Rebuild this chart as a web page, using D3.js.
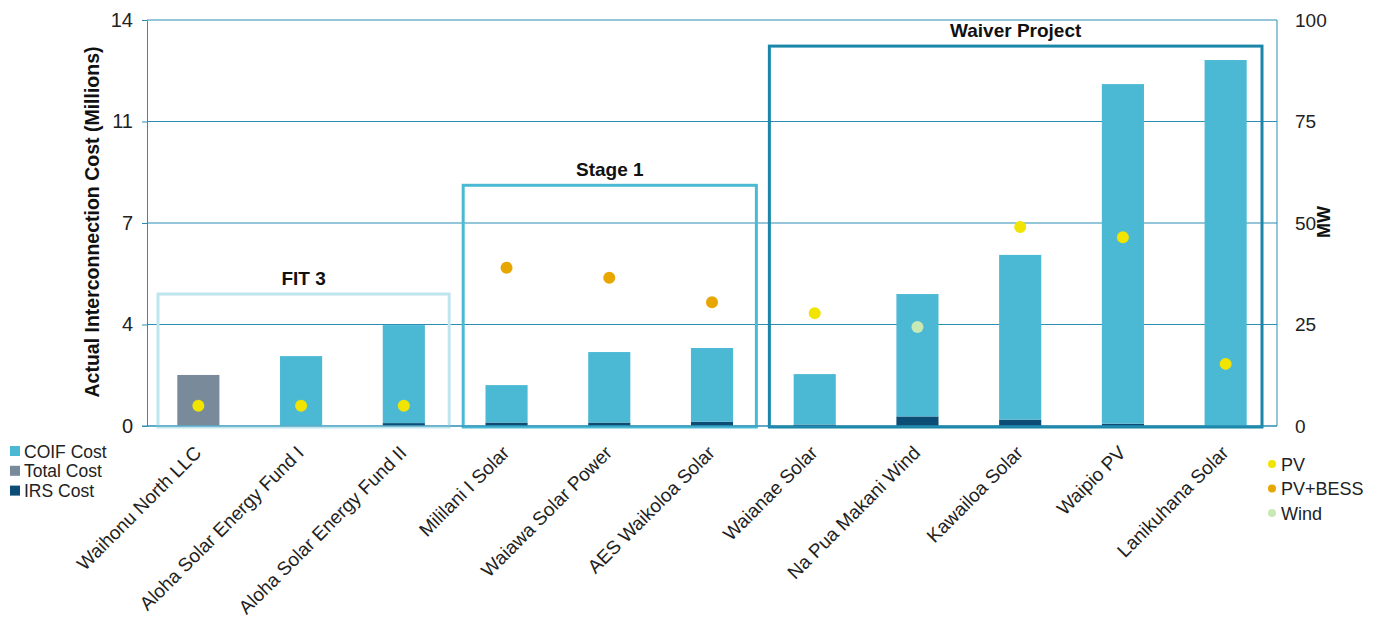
<!DOCTYPE html>
<html>
<head>
<meta charset="utf-8">
<script src="https://cdn.jsdelivr.net/npm/d3@7"></script>
<style>
  body { margin: 0; background: #fff; }
  svg { font-family: "Liberation Sans", Arial, sans-serif; }
</style>
</head>
<body>
<div id="chart"></div>
<script>
// Projects along the x axis
const categories = [
  "Waihonu North LLC", "Aloha Solar Energy Fund I", "Aloha Solar Energy Fund II",
  "Mililani I Solar", "Waiawa Solar Power", "AES Waikoloa Solar",
  "Waianae Solar", "Na Pua Makani Wind", "Kawailoa Solar", "Waipio PV", "Lanikuhana Solar"
];

// Costs in millions (left axis)
const irsCost   = [0, 0, 0.1, 0.12, 0.12, 0.15, 0.05, 0.33, 0.22, 0.08, 0];
const coifCost  = [0, 2.41, 3.38, 1.29, 2.43, 2.54, 1.74, 4.22, 5.68, 11.71, 12.62];
const totalCost = [1.76, 0, 0, 0, 0, 0, 0, 0, 0, 0, 0];

// Capacity in MW (right axis) and technology
const capacityMW = [5, 5, 5, 39, 36.5, 30.5, 27.8, 24.4, 49, 46.5, 15.3];
const technology = ["PV", "PV", "PV", "PV+BESS", "PV+BESS", "PV+BESS", "PV", "Wind", "PV", "PV", "PV"];

// Left / right axis ticks
const costTicks = [0, 3.5, 7, 10.5, 14];
const mwTicks = [0, 25, 50, 75, 100];

// Project groupings (first and last category index)
const groupNames = ["FIT 3", "Stage 1", "Waiver Project"];
const groupStart = [0, 3, 6];
const groupEnd   = [2, 5, 10];

const costSeries = ["COIF Cost", "Total Cost", "IRS Cost"];
const techSeries = ["PV", "PV+BESS", "Wind"];

const colors = {
  "COIF Cost": "#4cb9d4",
  "Total Cost": "#798b9b",
  "IRS Cost": "#0c4d75",
  "PV": "#f0e400",
  "PV+BESS": "#e8a700",
  "Wind": "#c8e9b4"
};
const groupColors = ["#bfe5ef", "#4cb9d4", "#1b87a8"];
const groupTop = [4.55, 8.3, 13.1];
const groupInsetLeft = [11, 8, 6];
const groupInsetRight = [6, 7, 15];
const gridColor = "#2b8db3";

const W = 1377, H = 618;
const margin = { top: 20, right: 100, bottom: 192, left: 147 };
const width = W - margin.left - margin.right;
const height = H - margin.top - margin.bottom;

const svg = d3.select("#chart").append("svg")
  .attr("width", W)
  .attr("height", H);

const g = svg.append("g")
  .attr("transform", `translate(${margin.left},${margin.top})`);

const x = d3.scaleBand()
  .domain(categories)
  .range([0, width])
  .paddingInner(0.59)
  .paddingOuter(0.295);

const band = d3.scaleBand().domain(categories).range([0, width]);

const yCost = d3.scaleLinear().domain([0, 14]).range([height, 0]);
const yMW = d3.scaleLinear().domain([0, 100]).range([height, 0]);

// Gridlines
g.append("g")
  .selectAll("line")
  .data(costTicks)
  .enter()
  .append("line")
  .attr("x1", 0)
  .attr("x2", width)
  .attr("y1", d => yCost(d))
  .attr("y2", d => yCost(d))
  .attr("stroke", gridColor)
  .attr("stroke-width", 1);

// right frame line
g.append("line")
  .attr("x1", width).attr("x2", width)
  .attr("y1", 0).attr("y2", height)
  .attr("stroke", gridColor)
  .attr("stroke-width", 1);

// Stacked bars: IRS at the bottom, COIF on top, total cost where given
const stackData = categories.map((c, i) => ({
  category: c,
  "IRS Cost": irsCost[i],
  "COIF Cost": coifCost[i],
  "Total Cost": totalCost[i]
}));
const stack = d3.stack().keys(["IRS Cost", "COIF Cost", "Total Cost"]);
const layers = stack(stackData);

g.append("g")
  .selectAll("g")
  .data(layers)
  .enter()
  .append("g")
  .attr("fill", d => colors[d.key])
  .selectAll("rect")
  .data(d => d)
  .enter()
  .append("rect")
  .attr("x", d => x(d.data.category))
  .attr("width", x.bandwidth())
  .attr("y", d => yCost(d[1]))
  .attr("height", d => yCost(d[0]) - yCost(d[1]));

// Group boxes
groupNames.forEach((name, i) => {
  const x0 = band(categories[groupStart[i]]) + groupInsetLeft[i];
  const x1 = band(categories[groupEnd[i]]) + band.bandwidth() - groupInsetRight[i];
  const y0 = yCost(groupTop[i]);
  g.append("rect")
    .attr("x", x0)
    .attr("y", y0)
    .attr("width", x1 - x0)
    .attr("height", yCost(0) - y0 + 1)
    .attr("fill", "none")
    .attr("stroke", groupColors[i])
    .attr("stroke-width", 3);
  g.append("text")
    .attr("x", (x0 + x1) / 2)
    .attr("y", y0 - 9)
    .attr("text-anchor", "middle")
    .attr("font-size", 19)
    .attr("font-weight", "bold")
    .attr("fill", "#111")
    .text(name);
});

// MW dots
g.append("g")
  .selectAll("circle")
  .data(categories)
  .enter()
  .append("circle")
  .attr("cx", d => x(d) + x.bandwidth() / 2)
  .attr("cy", (d, i) => yMW(capacityMW[i]))
  .attr("r", 6)
  .attr("fill", (d, i) => colors[technology[i]]);

// Left axis
const leftAxis = g.append("g")
  .call(d3.axisLeft(yCost).tickValues(costTicks).tickFormat(d3.format(".0f")).tickSize(5).tickSizeOuter(0));
leftAxis.select(".domain").attr("stroke", gridColor);
leftAxis.selectAll(".tick line").attr("stroke", gridColor);
leftAxis.selectAll("text")
  .attr("font-size", 20)
  .attr("fill", "#222")
  .attr("x", -14)
  .attr("font-family", "Liberation Sans, Arial, sans-serif");

// Right axis
const rightAxis = g.append("g")
  .attr("transform", `translate(${width},0)`)
  .call(d3.axisRight(yMW).tickValues(mwTicks).tickSize(0));
rightAxis.select(".domain").remove();
rightAxis.selectAll("text")
  .attr("font-size", 19)
  .attr("fill", "#222")
  .attr("x", 18)
  .attr("font-family", "Liberation Sans, Arial, sans-serif");

// Bottom axis line and labels
g.append("line")
  .attr("x1", -5).attr("x2", width)
  .attr("y1", height).attr("y2", height)
  .attr("stroke", gridColor);

g.append("g")
  .selectAll("text")
  .data(categories)
  .enter()
  .append("text")
  .attr("transform", d => `translate(${x(d) + x.bandwidth() / 2 + 4},${height + 28}) rotate(-45)`)
  .attr("text-anchor", "end")
  .attr("font-size", 19)
  .attr("fill", "#222")
  .text(d => d);

// Axis titles
svg.append("text")
  .attr("transform", `translate(99,222) rotate(-90)`)
  .attr("text-anchor", "middle")
  .attr("font-size", 19.5)
  .attr("font-weight", "bold")
  .attr("fill", "#111")
  .text("Actual Interconnection Cost (Millions)");

svg.append("text")
  .attr("transform", `translate(1330,222) rotate(-90)`)
  .attr("text-anchor", "middle")
  .attr("font-size", 18)
  .attr("font-weight", "bold")
  .attr("fill", "#111")
  .text("MW");

// Cost legend (bottom left)
const costLegend = svg.append("g").attr("transform", "translate(10,451)");
costSeries.forEach((s, i) => {
  const row = costLegend.append("g").attr("transform", `translate(0,${i * 19.8})`);
  row.append("rect").attr("x", 0).attr("y", -5).attr("width", 10).attr("height", 10).attr("fill", colors[s]);
  row.append("text").attr("x", 14).attr("y", 6.5).attr("font-size", 17.5).attr("fill", "#222").text(s);
});

// Technology legend (bottom right)
const techLegend = svg.append("g").attr("transform", "translate(1272,464)");
techSeries.forEach((s, i) => {
  const row = techLegend.append("g").attr("transform", `translate(0,${i * 24.5})`);
  row.append("circle").attr("cx", 0).attr("cy", 0).attr("r", 4).attr("fill", colors[s]);
  row.append("text").attr("x", 9).attr("y", 6.5).attr("font-size", 18).attr("fill", "#222").text(s);
});
</script>
</body>
</html>
